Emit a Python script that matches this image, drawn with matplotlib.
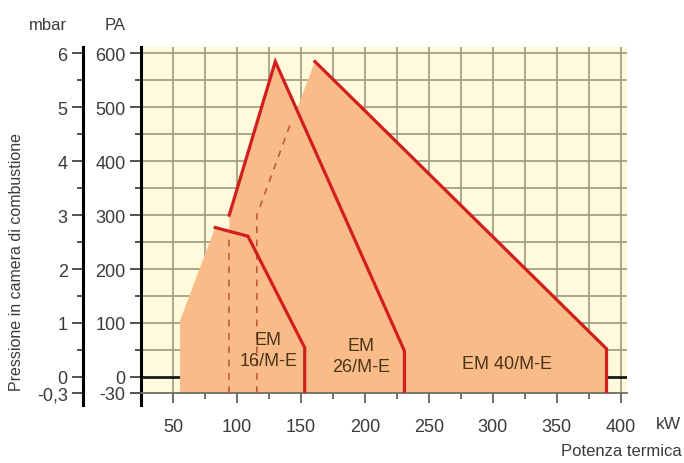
import matplotlib.pyplot as plt
from matplotlib.ticker import MultipleLocator, FixedLocator

# Operating envelopes (kW, Pa)
em16_kw = [55.5, 55.5, 83, 108.6, 153, 153]
em16_pa = [-30, 104, 277, 261, 54, -30]
em26_kw = [94, 94, 130, 231, 231]
em26_pa = [-30, 300, 585, 48, -30]
em40_kw = [115.6, 115.6, 161, 389, 389]
em40_pa = [-30, 300, 585, 52, -30]

# red outlines
em16_line_kw = [83, 108.6, 153, 153]
em16_line_pa = [277, 261, 54, -30]
em26_line_kw = [94, 130, 231, 231]
em26_line_pa = [300, 585, 48, -30]
em40_line_kw = [161, 389, 389]
em40_line_pa = [585, 52, -30]

# dashed hidden edges
dash1_kw = [94, 94]
dash1_pa = [-30, 266]
dash2_kw = [115.6, 115.6, 143]
dash2_pa = [-30, 300, 477]

pa_ticks = [-30, 0, 100, 200, 300, 400, 500, 600]
mbar_ticks = [-0.3, 0, 1, 2, 3, 4, 5, 6]
mbar_labels = ["-0,3", "0", "1", "2", "3", "4", "5", "6"]
kw_ticks = [50, 100, 150, 200, 250, 300, 350, 400]

FILL = "#f9bb87"
RED = "#d21e1e"
BG = "#fffadc"
GRID = "#9a9a7e"
TXT = "#4a3418"
LBL = "#3a3a3a"
FONT = "Liberation Sans"

plt.rcParams["font.family"] = FONT
plt.rcParams["axes.unicode_minus"] = False

fig = plt.figure(figsize=(6.84, 4.64), dpi=100)
ax = fig.add_axes([141 / 684, 1 - 394 / 464, 486 / 684, 346 / 464])
ax.set_facecolor(BG)
ax.set_xlim(25, 405)
ax.set_ylim(-30, 612)

# grid
ax.xaxis.set_minor_locator(MultipleLocator(25))
ax.yaxis.set_minor_locator(FixedLocator([50, 150, 250, 350, 450, 550]))
ax.set_xticks(kw_ticks)
ax.set_yticks(pa_ticks)
for x in range(50, 401, 25):
    ax.axvline(x, color=GRID, lw=1.2, zorder=1)
for y in range(50, 601, 50):
    ax.axhline(y, color=GRID, lw=1.2, zorder=1)
ax.axhline(0, color="#1a1a1a", lw=2, zorder=1)

for xs, ys in [(em16_kw, em16_pa), (em26_kw, em26_pa), (em40_kw, em40_pa)]:
    ax.fill(xs, ys, color=FILL, lw=0, zorder=2)

ax.plot(dash1_kw, dash1_pa, color="#c05a3a", lw=1.2, ls=(0, (4, 4)), zorder=3)
ax.plot(dash2_kw, dash2_pa, color="#c05a3a", lw=1.2, ls=(0, (4, 4)), zorder=3)

for xs, ys in [(em16_line_kw, em16_line_pa), (em26_line_kw, em26_line_pa),
               (em40_line_kw, em40_line_pa)]:
    ax.plot(xs, ys, color=RED, lw=2.3, solid_joinstyle="miter", zorder=4)

tkw = dict(color=TXT, fontsize=13, ha="center", va="center", zorder=5)
ax.text(124.5, 49, "EM\n16/M-E", linespacing=1.3, **tkw)
ax.text(197, 38, "EM\n26/M-E", linespacing=1.3, **tkw)
ax.text(311, 24, "EM 40/M-E", **tkw)

# spines and ticks
for s in ["top", "right"]:
    ax.spines[s].set_visible(False)
ax.spines["left"].set_linewidth(2.2)
ax.spines["left"].set_bounds(-52, 612)
ax.spines["bottom"].set_color("#6e6e5a")
ax.spines["bottom"].set_linewidth(1.3)
ax.tick_params(axis="y", which="major", length=8, width=1.2, color="#333333",
               labelsize=13, labelcolor=LBL, pad=3)
ax.tick_params(axis="y", which="minor", length=4, width=1.2, color="#333333")
ax.tick_params(axis="x", which="major", length=7, width=1.2, color="#555555",
               labelsize=13, labelcolor=LBL, pad=11)
ax.tick_params(axis="x", which="minor", length=4, width=1.2, color="#555555")

# mbar axis
ax2 = ax.twinx()
ax2.set_ylim(-0.30, 6.12)
ax2.spines["right"].set_visible(False)
ax2.spines["top"].set_visible(False)
ax2.spines["bottom"].set_visible(False)
ax2.spines["left"].set_visible(True)
ax2.spines["left"].set_position(("axes", -58 / 486))
ax2.spines["left"].set_linewidth(2.2)
ax2.spines["left"].set_bounds(-0.52, 6.12)
ax2.yaxis.set_ticks_position("left")
ax2.yaxis.set_label_position("left")
ax2.set_yticks(mbar_ticks)
ax2.set_yticklabels(mbar_labels)
ax2.yaxis.set_minor_locator(FixedLocator([0.5, 1.5, 2.5, 3.5, 4.5, 5.5]))
ax2.tick_params(axis="y", which="major", length=8, width=1.2, color="#333333",
                labelsize=13, labelcolor=LBL, pad=3)
ax2.tick_params(axis="y", which="minor", length=4, width=1.2, color="#333333")

fig.text(48 / 684, 1 - 25 / 464, "mbar", fontsize=12, color=LBL,
         ha="center", va="center")
fig.text(115 / 684, 1 - 25 / 464, "PA", fontsize=12, color=LBL,
         ha="center", va="center")
fig.text(668 / 684, 1 - 425 / 464, "kW", fontsize=12.5, color=LBL,
         ha="center", va="center")
fig.text(682 / 684, 1 - 452 / 464, "Potenza termica", fontsize=12,
         color=LBL, ha="right", va="center")
fig.text(17 / 684, 1 - 262 / 464, "Pressione in camera di combustione",
         fontsize=11.5, color=LBL, rotation=90, ha="center", va="center")

fig.savefig("out.png", dpi=100)
